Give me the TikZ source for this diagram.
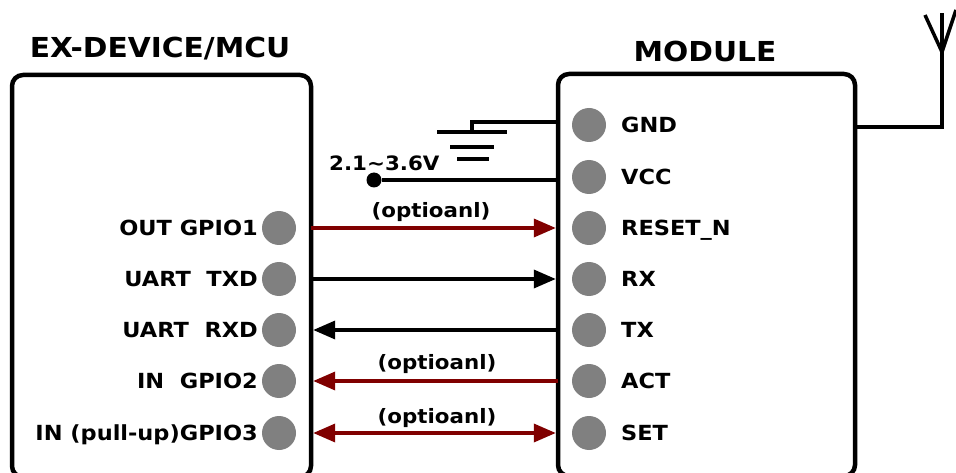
\documentclass[tikz,border=0pt]{standalone}
\usepackage{fontspec}
\setmainfont{DejaVu Sans}[FakeStretch=1.08]
\usetikzlibrary{arrows.meta}
\definecolor{wred}{HTML}{800000}
\definecolor{pingray}{HTML}{808080}
\begin{document}
\begin{tikzpicture}[x=1pt,y=-1pt,
  box/.style={draw=black,line width=4.5pt,rounded corners=11pt,outer sep=0pt,inner sep=0pt},
  pin/.style={circle,fill=pingray,minimum size=34pt,inner sep=0pt,outer sep=0pt},
  lbl/.style={font=\fontsize{20.8}{22}\selectfont\bfseries,inner sep=0pt},
  sml/.style={font=\fontsize{19.8}{21}\selectfont\bfseries,inner sep=0pt},
  ttl/.style={font=\fontsize{27.5}{29}\selectfont\bfseries,inner sep=0pt},
  wire/.style={line width=3.5pt},
  sig/.style={line width=3.5pt,-{Triangle[length=22pt,width=18pt]},shorten >=2.2pt},
  bisig/.style={line width=3.5pt,{Triangle[length=22pt,width=18pt]}-{Triangle[length=22pt,width=18pt]},shorten >=2.2pt,shorten <=2.2pt},
]
\useasboundingbox (0,0) rectangle (956,473);
\begin{scope}
\clip (0,0) rectangle (956,473);
% boxes
\node[box,minimum width=299pt,minimum height=402pt] (L) at (161.5,276) {};
\node[box,minimum width=297pt,minimum height=402pt] (R) at (706.5,275) {};
\end{scope}
% titles
\node[ttl,anchor=base] (tl) at (160,58) {EX-DEVICE/MCU};
\node[ttl,anchor=base] (tr) at (705,62) {MODULE};
% row coordinates
\coordinate (r1) at (0,228);
\coordinate (r2) at (0,279);
\coordinate (r3) at (0,330);
\coordinate (r4) at (0,381);
\coordinate (r5) at (0,433);
% left pins
\foreach \i/\t in {1/OUT GPIO1,2/UART\ \ TXD,3/UART\ \ RXD,4/IN\ \ GPIO2,5/{IN (pull-up)GPIO3}}{
  \node[pin] (lp\i) at (279,0 |- r\i) {};
  \node[lbl,anchor=base east] (lt\i) at ([yshift=-7.5pt]258,0 |- r\i) {\t};
}
% right pins
\node[pin] (rg) at (589,125) {};
\node[lbl,anchor=base west] (rgt) at (621,132.5) {GND};
\node[pin] (rv) at (589,177) {};
\node[lbl,anchor=base west] (rvt) at (621,184.5) {VCC};
\foreach \i/\t in {1/RESET\_N,2/RX,3/TX,4/ACT,5/SET}{
  \node[pin] (rp\i) at (589,0 |- r\i) {};
  \node[lbl,anchor=base west] (rt\i) at ([yshift=-7.5pt]621,0 |- r\i) {\t};
}
% signal lines
\draw[sig,wred] (L.east |- r1) -- (R.west |- r1);
\draw[sig] (L.east |- r2) -- (R.west |- r2);
\draw[sig] (R.west |- r3) -- (L.east |- r3);
\draw[sig,wred] (R.west |- r4) -- (L.east |- r4);
\draw[bisig,wred] (L.east |- r5) -- (R.west |- r5);
\node[sml,anchor=base] (o1) at (431,218) {(optioanl)};
\node[sml,anchor=base] (o2) at (437,369) {(optioanl)};
\node[sml,anchor=base] (o3) at (437,423) {(optioanl)};
% ground
\coordinate (g0) at (472,122);
\coordinate (g1) at (472,132);
\draw[wire] (R.west |- g0) -- (g0) -- (g1);
\draw[wire] (437,132) -- (507,132);
\draw[wire] (450,147) -- (494,147);
\draw[wire] (457,159) -- (489,159);
% vcc
\node[circle,fill=black,minimum size=15pt,inner sep=0pt] (vdot) at (374,180) {};
\draw[wire] (R.west |- vdot) -- (vdot);
\node[sml,anchor=base west] (vtxt) at (329,171) {2.1\textasciitilde3.6V};
% antenna
\coordinate (a0) at (942,127);
\coordinate (a1) at (942,13);
\coordinate (a2) at (942,52);
\draw[wire] (R.east |- a0) -- (a0) -- (a1);
\draw[wire] (925,15) -- (a2) -- (956,10);
\end{tikzpicture}
\end{document}
